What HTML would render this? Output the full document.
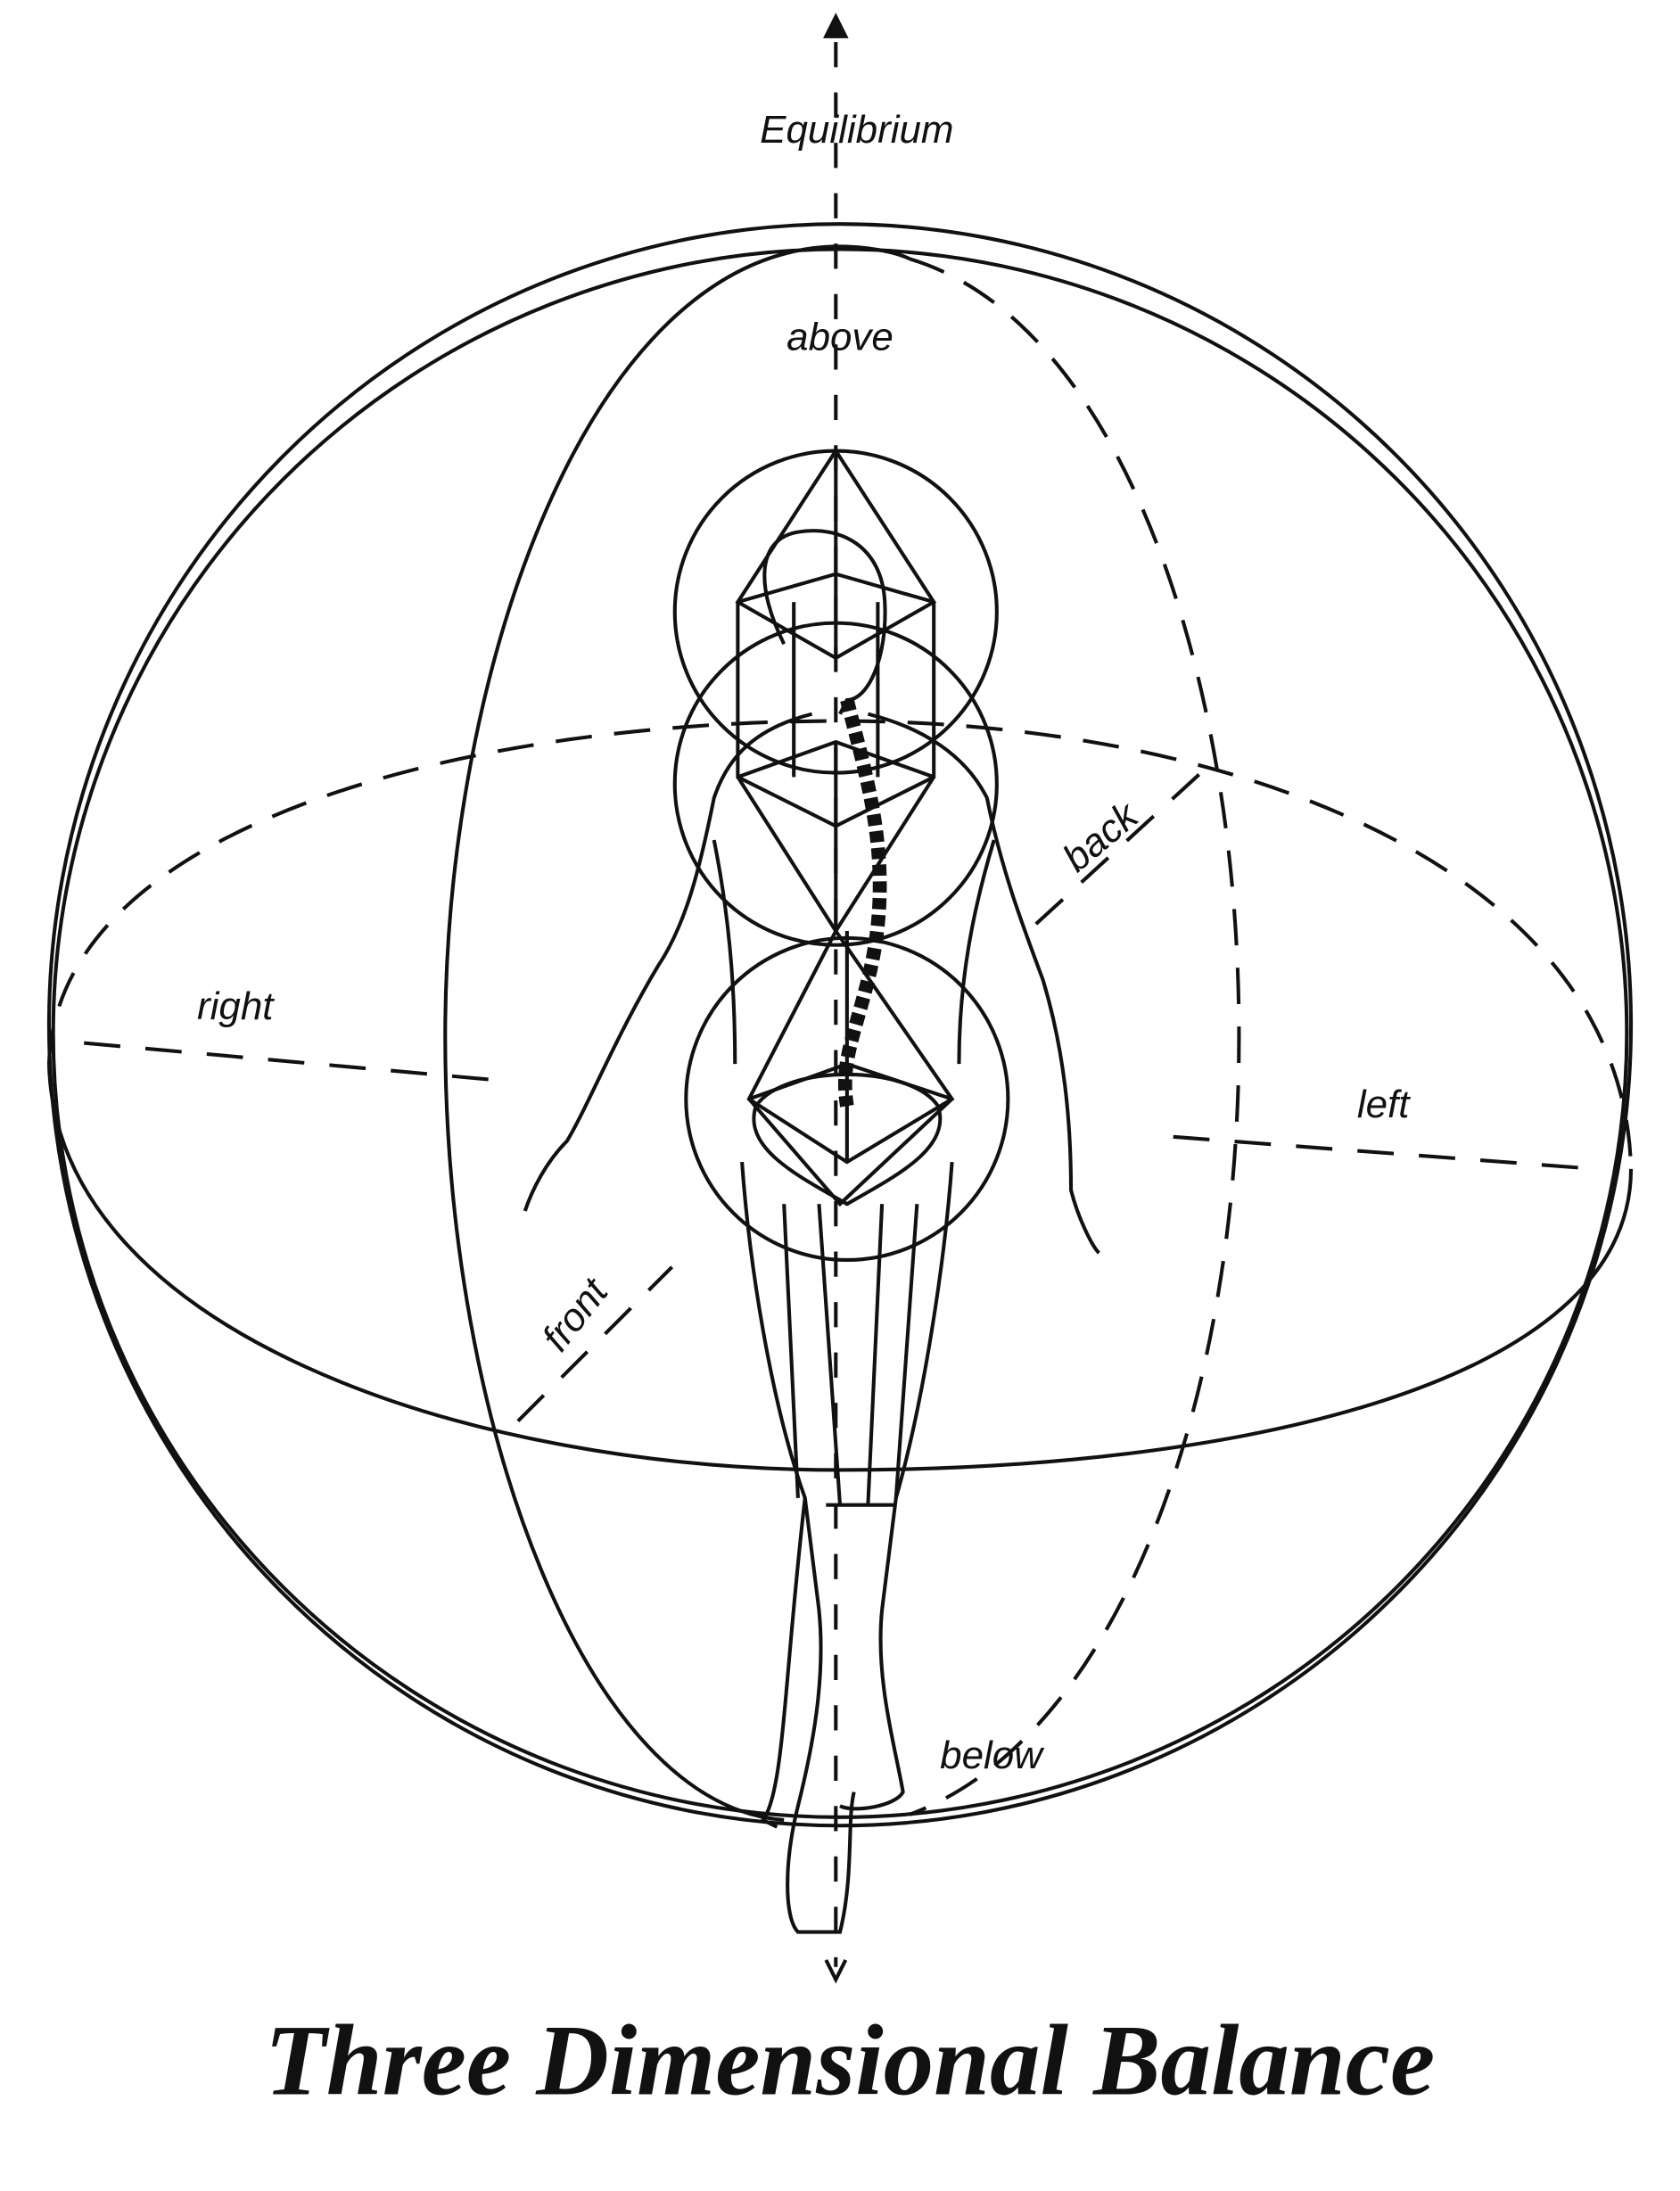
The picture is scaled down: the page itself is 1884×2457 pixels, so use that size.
<!DOCTYPE html>
<html><head><meta charset="utf-8"><style>
html,body{margin:0;padding:0;background:#fff}
svg{display:block}
text{font-family:"Liberation Serif",serif;fill:#111}
.lbl{font-family:"Liberation Sans",sans-serif;font-style:italic;font-size:28px}
</style></head><body>
<svg width="1884" height="2457" viewBox="0 0 1200 1565" xmlns="http://www.w3.org/2000/svg">
<g fill="none" stroke="#111" stroke-width="2.6">
<ellipse cx="600" cy="732" rx="565" ry="572"/>
<ellipse cx="600" cy="738" rx="562" ry="560"/>
<path d="M35 760 C 40 950, 330 1050, 600 1050 C 880 1050, 1165 990, 1165 835"/>
<path d="M35 760 C 40 590, 330 515, 600 515 C 880 515, 1160 620, 1165 835" stroke-dasharray="26 16"/>
<path d="M597 176 C 420 180, 318 480, 318 740 C 318 1020, 420 1290, 560 1300"/>
<path d="M650 185 C 800 230, 885 480, 885 740 C 885 1000, 800 1240, 650 1296" stroke-dasharray="26 16"/>
<path d="M597 176 C 620 176, 640 180, 650 185"/>
<path d="M597 30 L597 1405" stroke-dasharray="18 18"/>
<path d="M590 26 L597 12 L604 26 Z" fill="#111"/>
<path d="M590 1400 L597 1414 L604 1400"/>
<path d="M60 745 L360 772" stroke-dasharray="26 18"/>
<path d="M838 812 L1140 835" stroke-dasharray="26 18"/>
<path d="M370 1015 L480 905" stroke-dasharray="26 18"/>
<path d="M740 660 L860 550" stroke-dasharray="26 18"/>
<circle cx="597" cy="437" r="115"/>
<circle cx="597" cy="560" r="115"/>
<circle cx="605" cy="785" r="115"/>
<path d="M597 322 L527 430 L597 470 L667 430 Z M597 322 L597 470 M527 430 L597 410 L667 430"/>
<path d="M527 430 L527 555 L597 590 L667 555 L667 430 M567 430 L567 555 M627 430 L627 555"/>
<path d="M527 555 L597 665 L667 555 M527 555 L597 530 L667 555 M597 530 L597 665"/>
<path d="M597 665 L535 785 L605 830 L680 785 Z M535 785 L605 760 L680 785 M605 760 L605 830 M605 665 L605 760"/>
<path d="M535 785 L600 860 L680 785"/>
<path d="M560 460 C 540 420, 540 385, 570 380 C 600 375, 630 390, 632 430 C 634 470, 620 500, 605 500 L 600 510"/>
<path d="M605 500 C 620 560, 640 620, 620 700 C 610 740, 600 760, 605 790" stroke-width="10" stroke-dasharray="8 4"/>
<path d="M580 510 C 540 520, 520 540, 510 570 C 500 620, 490 660, 470 690 C 440 740, 420 790, 405 815 C 390 830, 380 850, 375 865"/>
<path d="M620 510 C 660 520, 690 540, 705 570 C 715 620, 730 660, 745 700 C 760 750, 765 800, 765 850 C 770 870, 780 890, 785 895"/>
<path d="M510 600 C 520 650, 525 700, 525 760 M710 600 C 695 650, 685 700, 685 760"/>
<path d="M540 790 C 560 760, 650 760, 670 790 C 680 820, 640 840, 605 860 C 570 840, 530 820, 540 790"/>
<path d="M530 830 C 535 900, 550 1000, 575 1070 L 585 1150 C 590 1200, 580 1250, 570 1290 C 560 1330, 560 1370, 570 1380 L 600 1380 C 610 1340, 605 1300, 610 1280"/>
<path d="M680 830 C 675 900, 660 1000, 640 1070 L 630 1150 C 625 1200, 640 1250, 645 1280 C 640 1290, 610 1295, 600 1290"/>
<path d="M590 1075 L 640 1075 M585 860 L 600 1075 M630 860 L 620 1075 M560 860 L 570 1070 M655 860 L 640 1070"/>
<path d="M575 1070 C 560 1200, 560 1280, 545 1300 L 555 1305"/>
</g>
<g class="lbl">
<text class="lbl" x="612" y="102" text-anchor="middle">Equilibrium</text>
<text class="lbl" x="600" y="250" text-anchor="middle">above</text>
<text class="lbl" x="168" y="728" text-anchor="middle">right</text>
<text class="lbl" x="988" y="798" text-anchor="middle">left</text>
<text class="lbl" x="708" y="1263" text-anchor="middle">below</text>
<text class="lbl" transform="translate(792 605) rotate(-40)" text-anchor="middle">back</text>
<text class="lbl" transform="translate(418 945) rotate(-52)" text-anchor="middle">front</text>
</g>
<text x="607" y="1496" text-anchor="middle" font-size="72" font-weight="bold" font-style="italic">Three Dimensional Balance</text>
</svg>
</body></html>
